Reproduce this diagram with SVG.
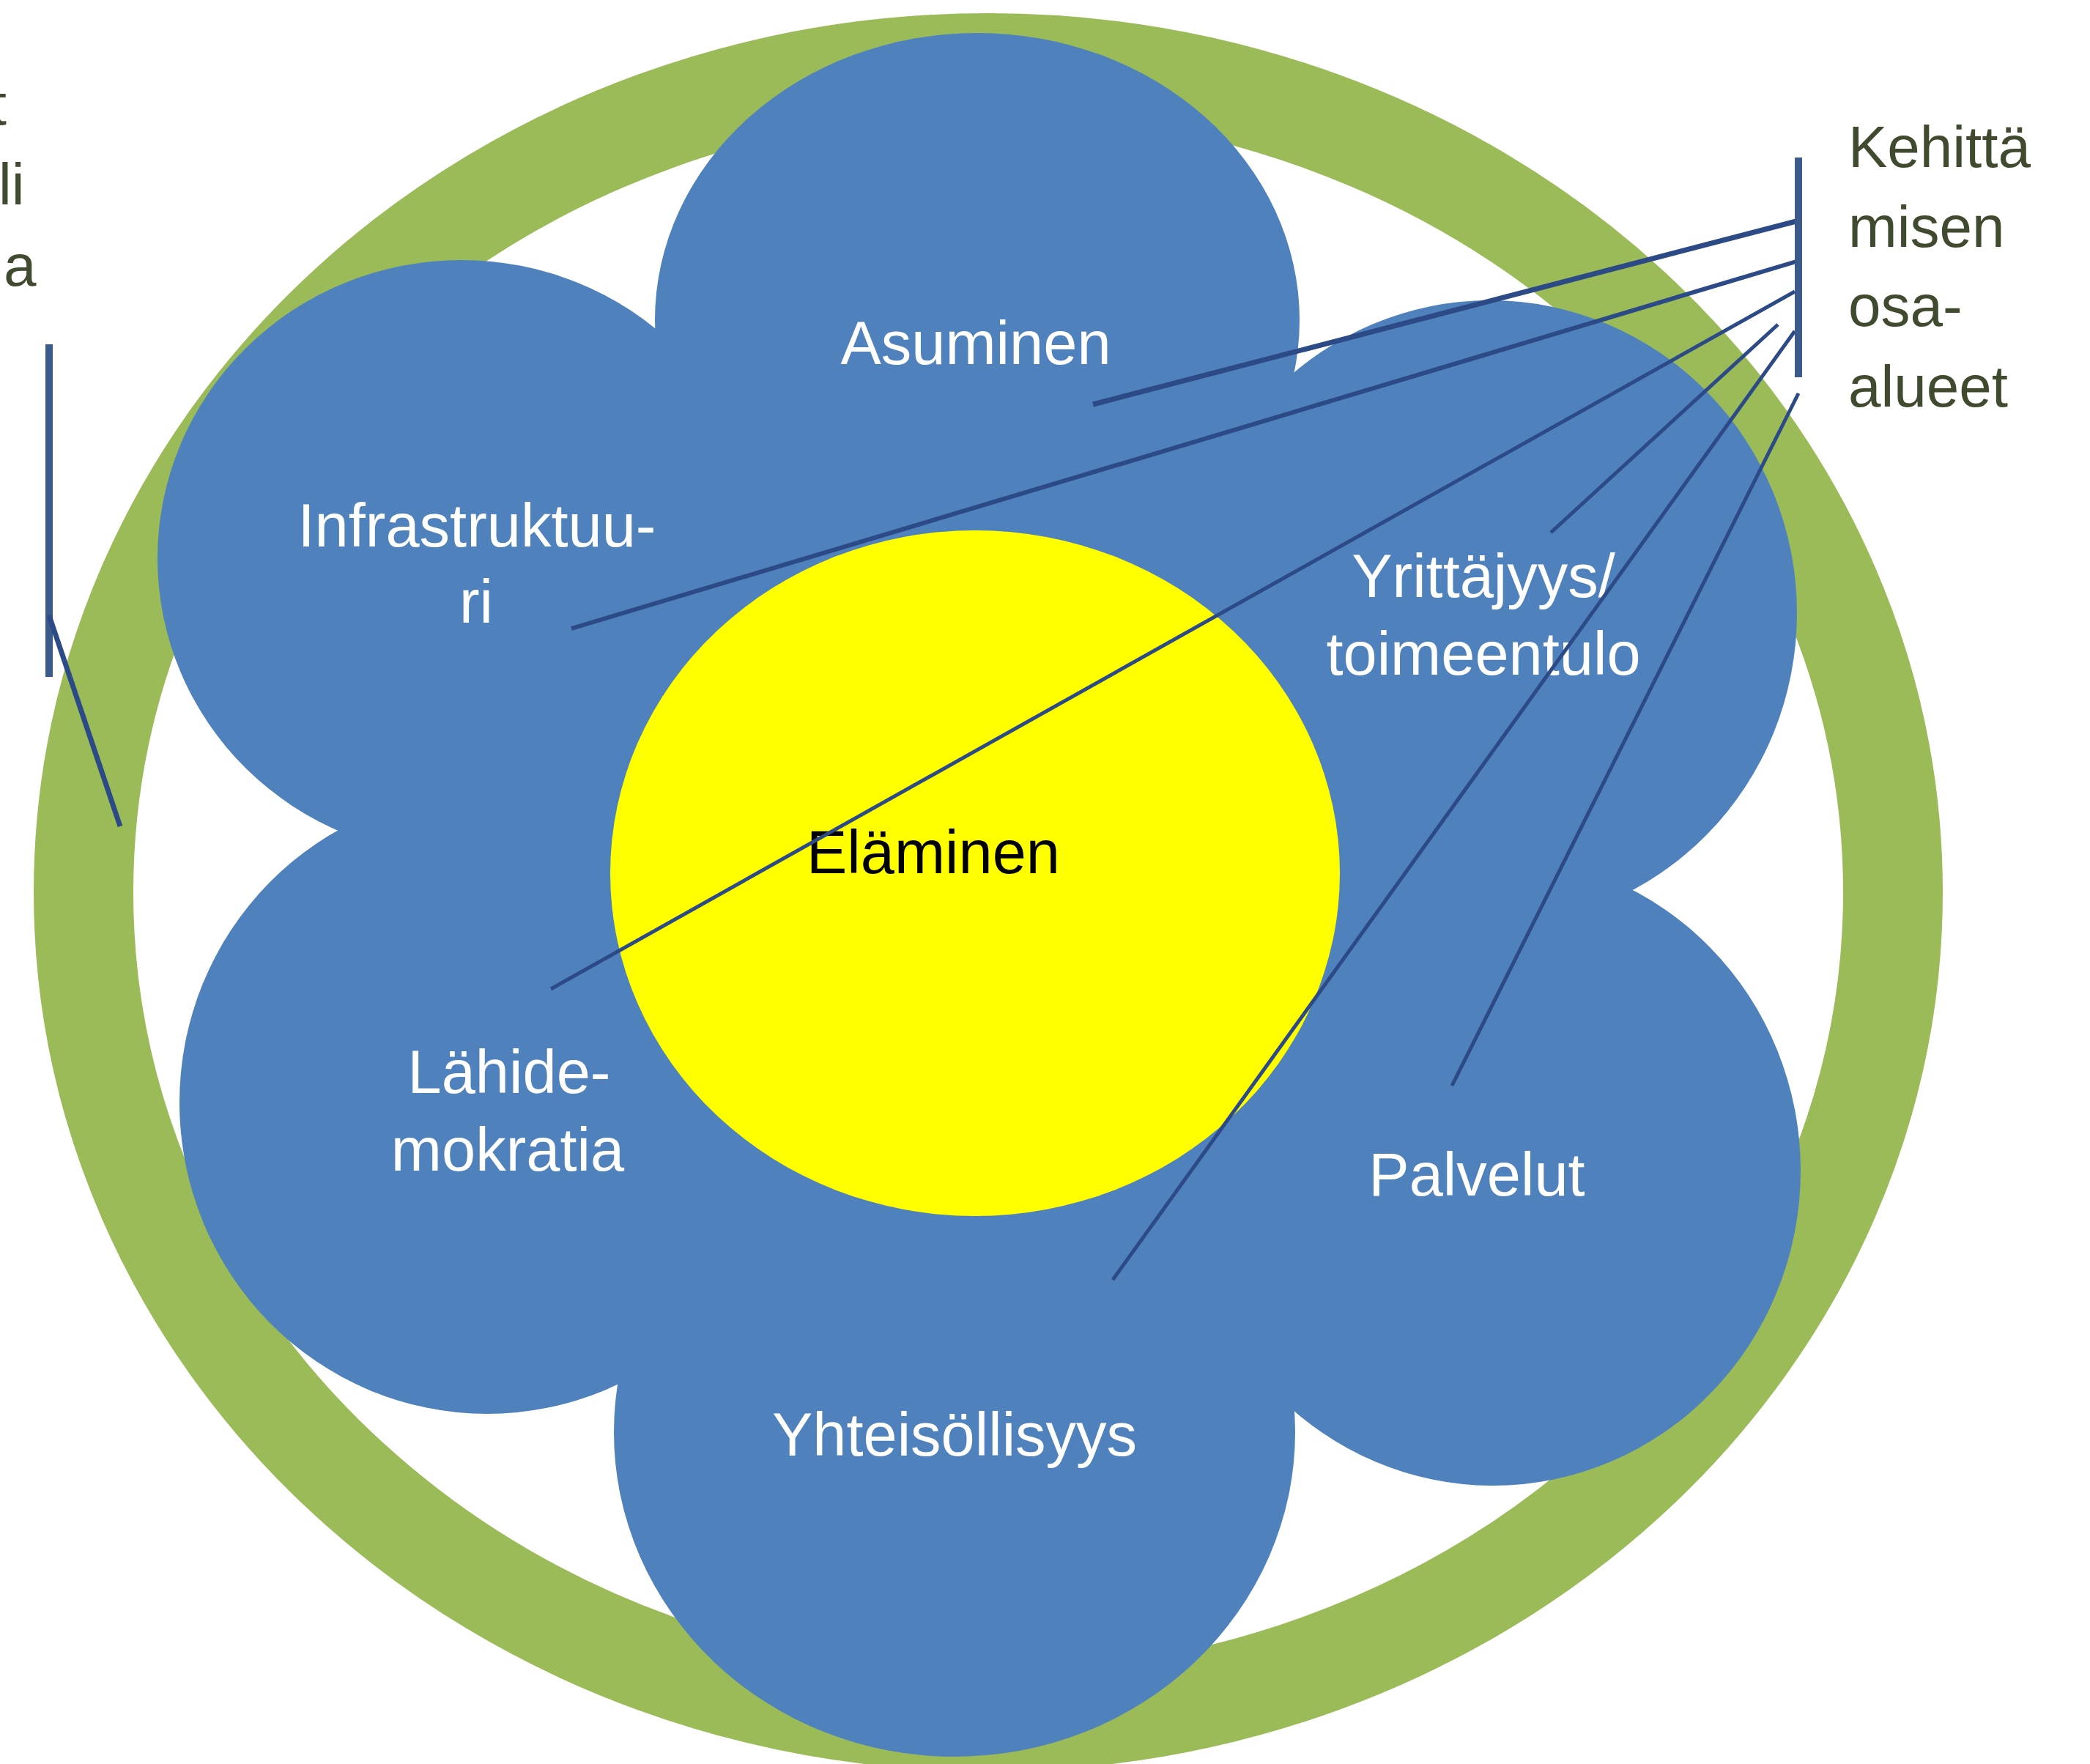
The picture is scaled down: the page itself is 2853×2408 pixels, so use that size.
<svg xmlns="http://www.w3.org/2000/svg" width="2853" height="2408" viewBox="0 0 2853 2408">
  <style>
    .petal { fill: #4F81BD; }
    .lbl { font-family: "Liberation Sans", Arial, sans-serif; font-size: 83px; fill: #FFFFFF; text-anchor: middle; }
    .center-lbl { font-family: "Liberation Sans", Arial, sans-serif; font-size: 83px; fill: #000000; text-anchor: middle; }
    .side { font-family: "Liberation Sans", Arial, sans-serif; font-size: 80px; fill: #3F4A2E; }
    .conn { stroke: #2C4A85; stroke-width: 5; fill: none; }
    .bar { stroke: #3C5A8A; stroke-width: 10; fill: none; }
  </style>
  <rect width="2853" height="2408" fill="#FFFFFF"/>

  <!-- green ring -->
  <ellipse id="ring" cx="1349" cy="1218" rx="1235" ry="1132" fill="none" stroke="#9BBB59" stroke-width="136"/>

  <!-- blue flower body -->
  <polygon class="petal" points="1334,437 2034,837 2038,1600 1303,1955 665,1505 630,762"/>

  <g id="asuminen">
    <ellipse class="petal" cx="1334" cy="437" rx="440" ry="392"/>
    <text class="lbl" x="1332" y="497">Asuminen</text>
  </g>
  <g id="infrastruktuuri">
    <ellipse class="petal" cx="630" cy="762" rx="415" ry="407"/>
    <text class="lbl" x="651" y="746">Infrastruktuu-</text>
    <text class="lbl" x="650" y="850">ri</text>
  </g>
  <g id="lahidemokratia">
    <ellipse class="petal" cx="665" cy="1505" rx="420" ry="425"/>
    <text class="lbl" x="695" y="1492">Lähide-</text>
    <text class="lbl" x="693" y="1598">mokratia</text>
  </g>
  <g id="yhteisollisyys">
    <ellipse class="petal" cx="1303" cy="1955" rx="465" ry="443"/>
    <text class="lbl" x="1303" y="1987">Yhteisöllisyys</text>
  </g>
  <g id="palvelut">
    <ellipse class="petal" cx="2038" cy="1598" rx="420" ry="430"/>
    <text class="lbl" x="2016" y="1632">Palvelut</text>
  </g>
  <g id="yrittajyys">
    <ellipse class="petal" cx="2034" cy="837" rx="419" ry="427"/>
    <text class="lbl" x="2025" y="815">Yrittäjyys/</text>
    <text class="lbl" x="2025" y="921">toimeentulo</text>
  </g>

  <g id="elaminen">
    <ellipse cx="1331" cy="1192" rx="498" ry="468" fill="#FFFF00"/>
    <text class="center-lbl" x="1274" y="1192">Eläminen</text>
  </g>

  <g id="connectors">
    <line class="conn" x1="2452" y1="302" x2="1492" y2="552" style="stroke-width:7"/>
    <line class="conn" x1="2452" y1="357" x2="780" y2="858" style="stroke-width:6"/>
    <line class="conn" x1="2450" y1="398" x2="752" y2="1350"/>
    <line class="conn" x1="2427" y1="443" x2="2117" y2="727"/>
    <line class="conn" x1="2450" y1="452" x2="1519" y2="1747"/>
    <line class="conn" x1="2455" y1="537" x2="1982" y2="1482"/>
    <line class="bar" x1="2455" y1="215" x2="2455" y2="515"/>
    <line class="bar" x1="67" y1="470" x2="67" y2="924"/>
    <line class="conn" x1="67" y1="840" x2="164" y2="1128" style="stroke-width:7"/>
  </g>

  <g id="label-right">
    <text class="side" x="2523" y="228">Kehittä</text>
    <text class="side" x="2523" y="337">misen</text>
    <text class="side" x="2523" y="445">osa-</text>
    <text class="side" x="2523" y="555">alueet</text>
  </g>
  <g id="label-left">
    <text class="side" x="9" y="170" text-anchor="end">t</text>
    <text class="side" x="-2" y="279">li</text>
    <text class="side" x="5" y="390">a</text>
  </g>
</svg>
